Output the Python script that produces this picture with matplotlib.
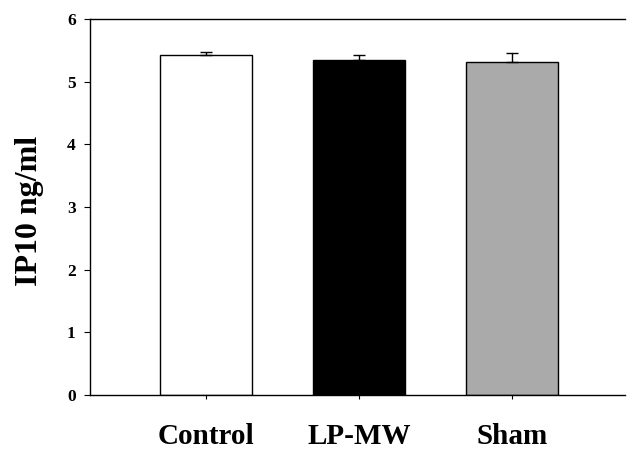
import matplotlib
matplotlib.use("Agg")
import matplotlib.pyplot as plt

categories = ["Control", "LP-MW", "Sham"]
values = [5.43, 5.34, 5.32]
errors = [0.04, 0.09, 0.14]
colors = ["white", "black", "#aaaaaa"]
yticks = [0, 1, 2, 3, 4, 5, 6]

plt.rcParams['font.family'] = ['Liberation Serif', 'DejaVu Serif']
plt.rcParams['font.weight'] = 'bold'

fig = plt.figure(figsize=(6.31, 4.5), dpi=100)
ax = fig.add_axes([0.1426, 0.1222, 0.848, 0.8356])
x = list(range(len(categories)))
ax.bar(x, values, width=0.6, color=colors, edgecolor="black", linewidth=1.0, zorder=2)
ax.errorbar(x, values, yerr=[[0]*3, errors], fmt='none', ecolor='black', elinewidth=1.0, capsize=4, capthick=1.0, zorder=3)
ax.set_xlim(-0.76, 2.74)
ax.set_ylim(0, 6)
ax.set_yticks(yticks)
ax.set_yticklabels([str(t) for t in yticks], fontsize=12.5, fontweight='bold')
ax.set_xticks(x)
ax.set_xticklabels(categories, fontsize=21, fontweight='bold')
ax.tick_params(axis='x', direction='out', length=3, pad=17, width=0.8)
ax.tick_params(axis='y', direction='out', length=4.3, pad=6, width=0.8)
ax.spines['right'].set_visible(False)
for s in ['left', 'bottom', 'top']:
    ax.spines[s].set_linewidth(1.0)
ax.set_ylabel("IP10 ng/ml", fontsize=23, fontweight='bold')
ax.yaxis.set_label_coords(-0.086, 0.49)
fig.savefig("out.png", dpi=100)
